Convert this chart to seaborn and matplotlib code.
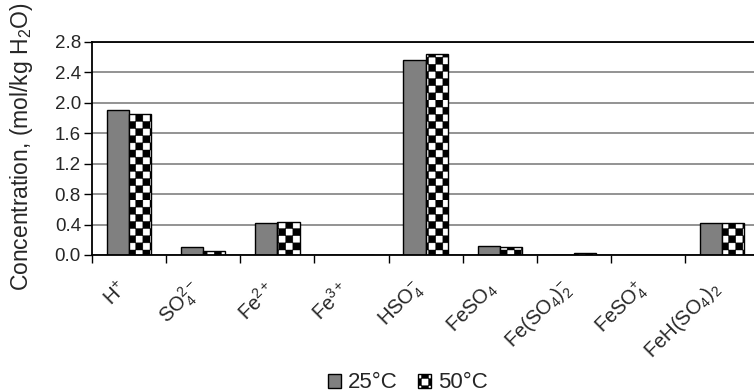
import warnings
import numpy as np
import pandas as pd
import matplotlib
matplotlib.use("Agg")
import matplotlib.pyplot as plt
from matplotlib import hatch as mhatch
from matplotlib import transforms
from matplotlib.path import Path
from matplotlib.ticker import FixedLocator
import seaborn as sns

warnings.filterwarnings("ignore")

# data
species = [r"H$^{+}$", r"SO$_4^{2-}$", r"Fe$^{2+}$", r"Fe$^{3+}$", r"HSO$_4^{-}$",
           r"FeSO$_4$", r"Fe(SO$_4$)$_2^{-}$", r"FeSO$_4^{+}$", r"FeH(SO$_4$)$_2$"]
conc_25 = [1.90, 0.10, 0.42, 0.0, 2.56, 0.12, 0.0, 0.0, 0.42]
conc_50 = [1.85, 0.05, 0.44, 0.0, 2.64, 0.10, 0.03, 0.0, 0.42]
temps = ["25°C", "50°C"]
y_ticks = [0.0, 0.4, 0.8, 1.2, 1.6, 2.0, 2.4, 2.8]


# checkerboard hatch (not built into matplotlib), registered as 'c'
# each 'c' adds two squares per hatch tile side
class CheckerHatch(mhatch.HatchPatternBase):
    def __init__(self, hatch, density):
        self.n = 2 * hatch.count("c")
        self.num_vertices = (self.n * self.n // 2) * 5

    def set_vertices_and_codes(self, vertices, codes):
        step = 1.0 / self.n
        sq = np.array([[0, 0], [1, 0], [1, 1], [0, 1], [0, 0]]) * step
        k = 0
        for r in range(self.n):
            for c in range(self.n):
                if (r + c) % 2 == 0:
                    vertices[k:k + 5] = sq + [c * step, r * step]
                    codes[k:k + 5] = [Path.MOVETO, Path.LINETO, Path.LINETO,
                                      Path.LINETO, Path.CLOSEPOLY]
                    k += 5


mhatch._hatch_types.append(CheckerHatch)

df = pd.DataFrame({
    "species": species * 2,
    "conc": conc_25 + conc_50,
    "temp": [temps[0]] * len(species) + [temps[1]] * len(species),
})

sns.set_style("white")
plt.rcParams["font.family"] = ["Liberation Sans", "DejaVu Sans"]
plt.rcParams["mathtext.fontset"] = "custom"
plt.rcParams["mathtext.rm"] = "Liberation Sans"
plt.rcParams["mathtext.it"] = "Liberation Sans"
plt.rcParams["mathtext.default"] = "regular"
plt.rcParams["hatch.linewidth"] = 0.3

fig = plt.figure(figsize=(7.54, 3.92), dpi=100)
ax = fig.add_axes([0.122, 0.3495, 0.885, 0.5434])

sns.barplot(data=df, x="species", y="conc", hue="temp", order=species,
            hue_order=temps, palette={temps[0]: "#808080", temps[1]: "white"},
            width=0.6, edgecolor="black", linewidth=1.0, legend=False,
            saturation=1, ax=ax)

for patch in ax.containers[1]:
    patch.set_hatch("ccccccc")
    patch.set_facecolor("white")

ax.set_ylim(0, 2.8)
ax.set_xlim(-0.5, len(species) - 0.5)
ax.set_yticks(y_ticks)
ax.set_yticklabels([f"{v:.1f}" for v in y_ticks], fontsize=13.5)
ax.yaxis.grid(True, color="#808080", linewidth=1.2)
ax.set_axisbelow(True)

ax.xaxis.set_minor_locator(FixedLocator(np.arange(-0.5, len(species), 1.0)))
ax.tick_params(axis="x", which="major", length=0, pad=22)
ax.tick_params(axis="x", which="minor", length=6, width=1, color="black",
               direction="out", bottom=True)
ax.tick_params(axis="y", length=6, width=1, color="black", direction="out",
               left=True, pad=2)
shift = transforms.ScaledTranslation(-5 / 100, 0, fig.dpi_scale_trans)
for lab in ax.get_xticklabels():
    lab.set_rotation(45)
    lab.set_ha("right")
    lab.set_va("center")
    lab.set_rotation_mode("anchor")
    lab.set_fontsize(14.5)
    lab.set_transform(lab.get_transform() + shift)

for side in ["left", "bottom", "top"]:
    ax.spines[side].set_color("black")
    ax.spines[side].set_linewidth(1.3)
ax.spines["right"].set_visible(False)

ax.set_xlabel("")
ax.set_ylabel(r"Concentration, (mol/kg H$_2$O)", fontsize=16.5)
ax.yaxis.set_label_coords(-0.085, 0.51)

fig.legend(ax.containers, temps, loc="center", bbox_to_anchor=(0.541, 0.023),
           ncol=2, frameon=False, fontsize=16, handlelength=0.6,
           handleheight=0.6, handletextpad=0.3, columnspacing=0.9)

fig.savefig("out.png", dpi=100)
